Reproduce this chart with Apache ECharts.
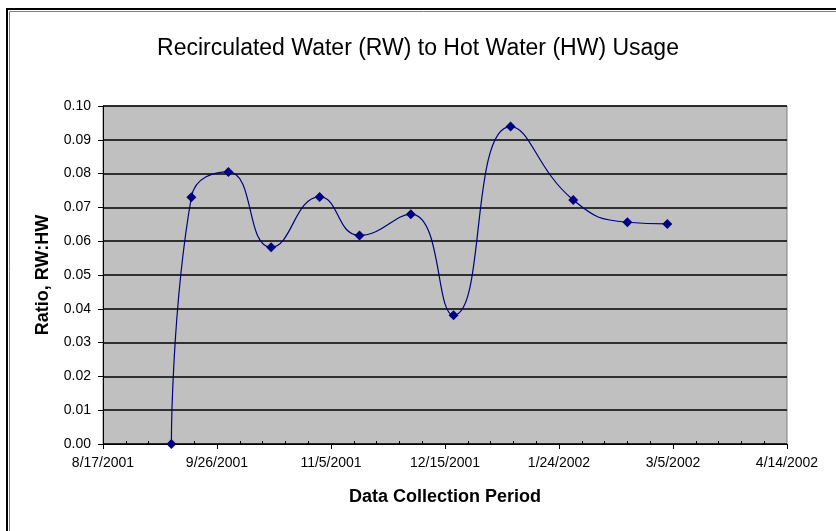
<!DOCTYPE html>
<html>
<head>
<meta charset="utf-8">
<script src="https://cdn.jsdelivr.net/npm/echarts@6/dist/echarts.min.js"></script>
<style>
  html, body { margin: 0; padding: 0; background: #fff; }
  #chart { width: 836px; height: 531px; }
</style>
</head>
<body>
<div id="chart"></div>
<script>
// collection dates and RW:HW ratio
const dates = ['2001-09-10', '2001-09-17', '2001-09-30', '2001-10-15', '2001-11-01', '2001-11-15',
  '2001-12-03', '2001-12-18', '2002-01-07', '2002-01-29', '2002-02-17', '2002-03-03']
const ratios = [0.000, 0.073, 0.0805, 0.0582, 0.0731, 0.0617, 0.068, 0.0381, 0.0939, 0.0722, 0.0656, 0.0651]
const xTickLabels = ['8/17/2001', '9/26/2001', '11/5/2001', '12/15/2001', '1/24/2002', '3/5/2002', '4/14/2002']

const startDate = Date.UTC(2001, 7, 17)
const DAY = 86400000
// days since the first axis tick
const toDay = (s) => Math.round((Date.parse(s + 'T00:00:00Z') - startDate) / DAY)
const points = dates.map((d, i) => [toDay(d), ratios[i]])

const myChart = echarts.init(document.getElementById('chart'))

myChart.setOption({
  animation: false,
  textStyle: { fontFamily: 'Liberation Sans, Arial, sans-serif' },
  title: {
    text: 'Recirculated Water (RW) to Hot Water (HW) Usage',
    left: 'center',
    top: 32,
    textStyle: { fontSize: 23, fontWeight: 'normal', color: '#000', fontFamily: 'Liberation Sans, Arial, sans-serif' }
  },
  graphic: [
    { type: 'rect', shape: { x: 7, y: 9, width: 900, height: 600 }, style: { fill: null, stroke: '#000', lineWidth: 2 } },
    { type: 'rect', shape: { x: 9.5, y: 11.5, width: 900, height: 600 }, style: { fill: null, stroke: '#808080', lineWidth: 1 } }
  ],
  grid: {
    left: 103, right: 49, top: 106, bottom: 87,
    show: true,
    backgroundColor: '#c0c0c0',
    borderColor: '#808080',
    borderWidth: 1
  },
  xAxis: {
    type: 'value',
    min: 0, max: 240, interval: 40,
    name: 'Data Collection Period',
    nameLocation: 'middle',
    nameGap: 44,
    nameTextStyle: { fontSize: 18, fontWeight: 'bold', color: '#000' },
    axisLine: { lineStyle: { color: '#000', width: 1 } },
    axisTick: { show: true, length: 5, lineStyle: { color: '#000' } },
    minorTick: { show: true, splitNumber: 5, length: -3, lineStyle: { color: '#000' } },
    splitLine: { show: false },
    axisLabel: {
      margin: 12, fontSize: 14, color: '#000',
      formatter: (v) => xTickLabels[Math.round(v / 40)]
    }
  },
  yAxis: {
    type: 'value',
    min: 0, max: 0.1, interval: 0.01,
    name: 'Ratio, RW:HW',
    nameLocation: 'middle',
    nameGap: 51,
    nameTextStyle: { fontSize: 18, fontWeight: 'bold', color: '#000' },
    axisLine: { show: true, lineStyle: { color: '#000', width: 1 } },
    axisTick: { show: true, length: 5, lineStyle: { color: '#000' } },
    splitLine: { show: true, lineStyle: { color: '#000', width: 1.5 } },
    axisLabel: {
      margin: 12, fontSize: 14, color: '#000',
      formatter: (v) => v.toFixed(2)
    }
  },
  series: [
    {
      type: 'line',
      data: points,
      smooth: 0.5,
      symbol: 'diamond',
      symbolSize: 10,
      lineStyle: { color: '#000080', width: 1.2 },
      itemStyle: { color: '#000080' }
    }
  ]
})
</script>
</body>
</html>
